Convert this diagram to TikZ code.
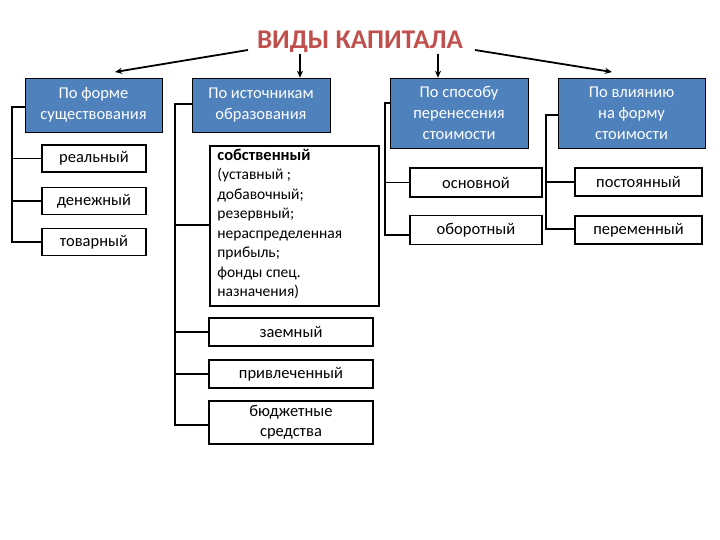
\documentclass[tikz,border=0pt]{standalone}
\usepackage{fontspec}
\setmainfont{Carlito}
\usetikzlibrary{arrows.meta}
\definecolor{hblue}{HTML}{4F81BD}
\definecolor{tred}{HTML}{C0504D}
\begin{document}
\begin{tikzpicture}[x=1pt,y=-1pt,
  hdr/.style={draw=black,line width=0.6pt,fill=hblue,text=white,font=\fontsize{16.5}{21}\selectfont,align=center,inner sep=0pt},
  item/.style={draw=black,line width=1.8pt,fill=white,font=\fontsize{16.5}{20}\selectfont,align=center,inner sep=0pt},
  br/.style={line width=1.2pt},
  arr/.style={line width=1.8pt,-{Stealth[length=7pt,width=6pt]}}]
\useasboundingbox (0,0) rectangle (720,540);
\node[text=tred,font=\bfseries\fontsize{27}{30}\selectfont] (t) at (360,42) {ВИДЫ КАПИТАЛА};
\node[hdr,minimum width=137,minimum height=54] (h1) at (93.5,105) {По форме\\существования};
\node[hdr,minimum width=138,minimum height=54] (h2) at (261,105) {По источникам\\образования};
\node[hdr,minimum width=138,minimum height=70] (h3) at (459,113) {По способу\\перенесения\\стоимости};
\node[hdr,minimum width=147,minimum height=70] (h4) at (631.5,113) {По влиянию\\на форму\\стоимости};
\node[item,minimum width=104,minimum height=27] (a1) at (94,158.5) {реальный};
\node[item,minimum width=104,minimum height=27] (a2) at (94,201) {денежный};
\node[item,minimum width=104,minimum height=27] (a3) at (94,242) {товарный};
\node[item,minimum width=169,minimum height=160,align=left,anchor=north west,inner sep=0pt,font=\fontsize{15.5}{19.5}\selectfont] (b1) at (209,145) {\hspace*{6pt}\parbox[t][156pt][t]{160pt}{\vspace{1pt}{\fontsize{16.5}{19.5}\selectfont\textbf{собственный}}\\(уставный ;\\добавочный;\\резервный;\\нераспределенная\\прибыль;\\фонды спец.\\назначения)}};
\node[item,minimum width=164,minimum height=28] (b2) at (291,332) {заемный};
\node[item,minimum width=164,minimum height=28] (b3) at (291,374) {привлеченный};
\node[item,minimum width=164,minimum height=43] (b4) at (291,422.5) {бюджетные\\средства};
\node[item,minimum width=132,minimum height=29] (c1) at (476,182.5) {основной};
\node[item,minimum width=132,minimum height=29] (c2) at (476,230) {оборотный};
\node[item,minimum width=127,minimum height=28] (d1) at (638.5,182) {постоянный};
\node[item,minimum width=127,minimum height=28] (d2) at (638.5,230) {переменный};
% arrows
\coordinate (s1) at (248,50); \coordinate (s2) at (300,54); \coordinate (s3) at (438,54); \coordinate (s4) at (475,50);
\draw[arr] (s1) -- (115,72);
\draw[arr] (s2) -- (h2.north -| s2);
\draw[arr] (s3) -- (h3.north -| s3);
\draw[arr] (s4) -- (612,72);
% brackets
\draw[br] (h1.west |- 0,107) -- (12,107) -- (12,242) -- (a3.west);
\draw[br] (12,158.5) -- (a1.west); \draw[br] (12,201) -- (a2.west);
\draw[br] (h2.west |- 0,104) -- (175,104) -- (175,425) -- (b4.west |- 0,425);
\draw[br] (175,225) -- (b1.west |- 0,225); \draw[br] (175,332) -- (b2.west); \draw[br] (175,374) -- (b3.west);
\draw[br] (h3.west |- 0,103) -- (385,103) -- (385,235) -- (c2.west |- 0,235);
\draw[br] (385,182.5) -- (c1.west);
\draw[br] (h4.west |- 0,115) -- (546,115) -- (546,229) -- (d2.west |- 0,229);
\draw[br] (546,182) -- (d1.west);
\end{tikzpicture}
\end{document}
